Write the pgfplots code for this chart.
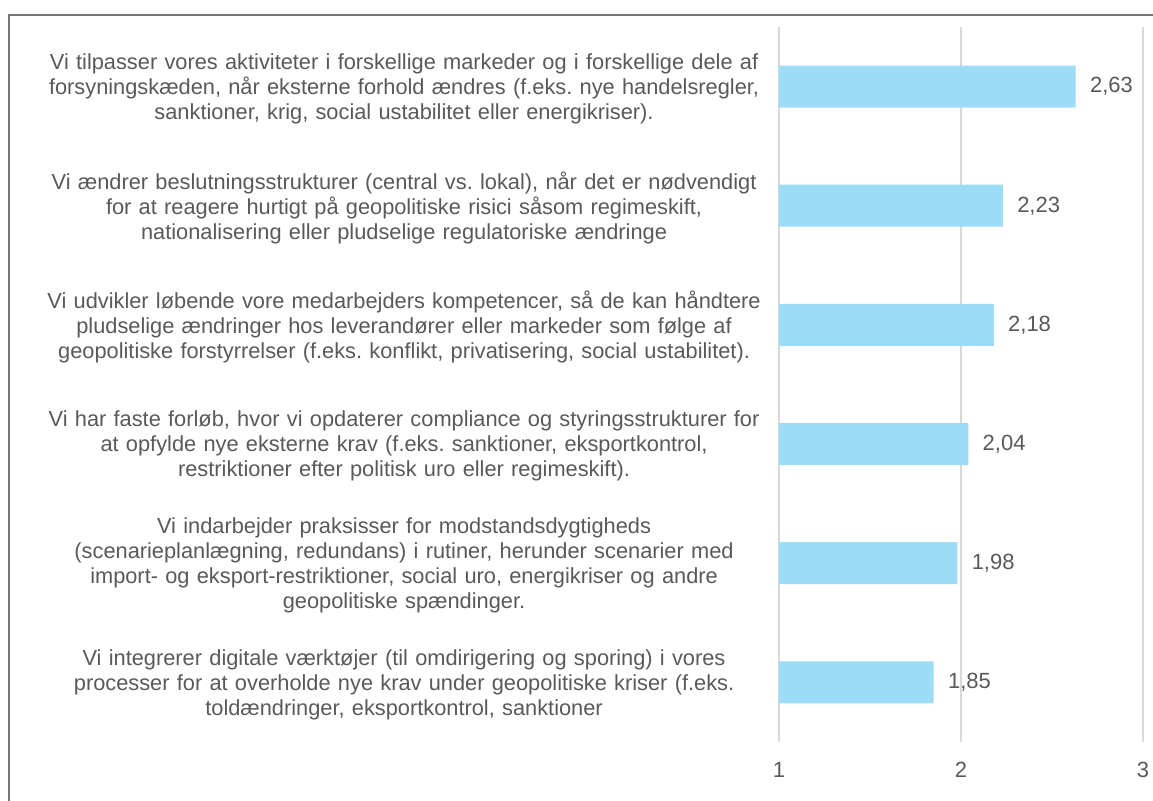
\documentclass[border=0pt]{standalone}
\usepackage{pgfplots}
\pgfplotsset{compat=1.18}
\usepackage{fontspec}
\setmainfont{Liberation Sans}
\frenchspacing
\definecolor{barblue}{RGB}{157,220,247}
\definecolor{txtgray}{RGB}{89,89,89}
\definecolor{gridgray}{RGB}{217,217,217}
\definecolor{framegray}{RGB}{118,118,118}
\begin{document}
\begin{tikzpicture}
\useasboundingbox (0,0) rectangle (576.5pt,400.5pt);
\draw[framegray, line width=0.75pt] (4.5pt,0pt) -- (4.5pt,393pt) -- (576.5pt,393pt);
\begin{axis}[
  at={(389.5pt,29.5pt)}, anchor=south west,
  scale only axis, width=182pt, height=357.5pt,
  xbar, bar width=21pt,
  xmin=1, xmax=3, ymin=-0.5, ymax=5.5,
  y dir=reverse,
  xtick={1,2,3},
  ytick={0,1,2,3,4,5},
  yticklabels={
    {Vi tilpasser vores aktiviteter i forskellige markeder og i forskellige dele af\\forsyningskæden, når eksterne forhold ændres (f.eks. nye handelsregler,\\sanktioner, krig, social ustabilitet eller energikriser).},
    {Vi ændrer beslutningsstrukturer (central vs. lokal), når det er nødvendigt\\for at reagere hurtigt på geopolitiske risici såsom regimeskift,\\nationalisering eller pludselige regulatoriske ændringe},
    {Vi udvikler løbende vore medarbejders kompetencer, så de kan håndtere\\pludselige ændringer hos leverandører eller markeder som følge af\\geopolitiske forstyrrelser (f.eks. konflikt, privatisering, social ustabilitet).},
    {Vi har faste forløb, hvor vi opdaterer compliance og styringsstrukturer for\\at opfylde nye eksterne krav (f.eks. sanktioner, eksportkontrol,\\restriktioner efter politisk uro eller regimeskift).},
    {Vi indarbejder praksisser for modstandsdygtigheds\\(scenarieplanlægning, redundans) i rutiner, herunder scenarier med\\import- og eksport-restriktioner, social uro, energikriser og andre\\geopolitiske spændinger.},
    {Vi integrerer digitale værktøjer (til omdirigering og sporing) i vores\\processer for at overholde nye krav under geopolitiske kriser (f.eks.\\toldændringer, eksportkontrol, sanktioner}
  },
  yticklabel style={text width=370pt, align=center, inner sep=0pt, xshift=2pt, yshift=-1pt,
    font=\fontsize{10.9}{12.5}\selectfont, text=txtgray},
  xticklabel style={inner sep=0pt, yshift=-10pt, font=\fontsize{11}{12}\selectfont, text=txtgray},
  /pgf/number format/assume math mode=true,
  axis line style={draw=none},
  tick style={draw=none},
  xmajorgrids, grid style={gridgray, line width=1pt},
  clip mode=individual,
  point meta=x,
  nodes near coords={\pgfmathprintnumber[fixed, fixed zerofill, precision=2, use comma, assume math mode=true]{\pgfplotspointmeta}},
  nodes near coords style={anchor=west, inner sep=0pt, xshift=7pt, font=\fontsize{11}{12}\selectfont, text=txtgray},
]
\addplot[fill=barblue, draw=none] coordinates {
  (2.63,0) (2.23,1) (2.18,2) (2.04,3) (1.98,4) (1.85,5)
};
\end{axis}
\end{tikzpicture}
\end{document}
